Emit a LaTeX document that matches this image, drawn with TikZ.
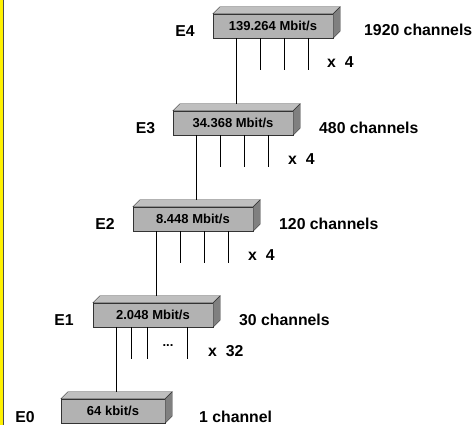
\documentclass[tikz,border=0pt]{standalone}
\usepackage{fontspec}
\setmainfont{Liberation Sans}
\usetikzlibrary{calc}

\tikzset{
  mux/.style={draw=black!80, fill=gray!60, minimum width=120pt, minimum height=24pt,
    inner sep=0pt, font=\bfseries\fontsize{13}{15}\selectfont},
  topface/.style={draw=black!80, fill=gray!50},
  sideface/.style={draw=black!80, fill=gray},
  lab/.style={font=\bfseries\fontsize{15.8}{18}\selectfont, inner sep=0pt},
  wire/.style={draw=black, line width=0.9pt}
}

\begin{document}
\begin{tikzpicture}[x=1pt, y=-1pt]
    \useasboundingbox (0,0) rectangle (475,425);
    % gelber Rand links:
    \fill[yellow] (0,0) rectangle (3,425);
    \draw[black!70, line width=1pt] (3.5,0) -- (3.5,425);

    % Multiplexer-Stufen:
    \node[mux] (E4) at (273,26) {139.264 Mbit/s};
    \node[mux] (E3) at (233,123) {34.368 Mbit/s};
    \node[mux] (E2) at (193,219) {8.448 Mbit/s};
    \node[mux] (E1) at (153,315) {2.048 Mbit/s};
    \node[mux, minimum width=104pt] (E0) at (113,411) {64 kbit/s};

    % Deckel und Seite:
    \foreach \b in {E4,E3,E2,E1,E0} {
        \filldraw[topface] (\b.north west) -- ++(7,-7)
            -- ([shift={(7,-7)}]\b.north east) -- (\b.north east) -- cycle;
        \filldraw[sideface] (\b.north east) -- ++(7,-7)
            -- ([shift={(7,-7)}]\b.south east) -- (\b.south east) -- cycle;
    }

    % Verbindung zur naechsten Stufe:
    \foreach \u/\l in {E4/E3,E3/E2,E2/E1,E1/E0}
        \draw[wire] let \p1=($(\u.south west)+(24,0)$), \p2=(\l.north) in
            (\p1) -- (\x1,\y2+7pt);

    % Zubringer:
    \foreach \u in {E4,E3,E2}
        \foreach \k in {48,72,96}
            \draw[wire] ($(\u.south west)+(\k,0)$) -- ++(0,32);
    \foreach \k in {39,55,95}
        \draw[wire] ($(E1.south west)+(\k,0)$) -- ++(0,32);

    % Bezeichnungen links:
    \node[lab] (n4) at (185,31) {E4};
    \node[lab] (n3) at (145.5,128) {E3};
    \node[lab] (n2) at (105,224) {E2};
    \node[lab] (n1) at (64,320) {E1};
    \node[lab] (n0) at (25,417) {E0};

    % Kanalzahlen rechts:
    \node[lab, anchor=west] (c4) at (364,30) {1920 channels};
    \node[lab, anchor=west] (c3) at (319,128) {480 channels};
    \node[lab, anchor=west] (c2) at (279,224) {120 channels};
    \node[lab, anchor=west] (c1) at (239,320) {30 channels};
    \node[lab, anchor=west] (c0) at (199,417) {1 channel};

    % Faktoren:
    \node[lab, anchor=west] (f4) at (327,62) {x~~4};
    \node[lab, anchor=west] (f3) at (288,159) {x~~4};
    \node[lab, anchor=west] (f2) at (248,255) {x~~4};
    \node[lab, anchor=west] (f1) at (208,351) {x~~32};
    \node[lab, font=\bfseries\fontsize{13}{15}\selectfont] (dots) at (168,346) {...};
\end{tikzpicture}
\end{document}
